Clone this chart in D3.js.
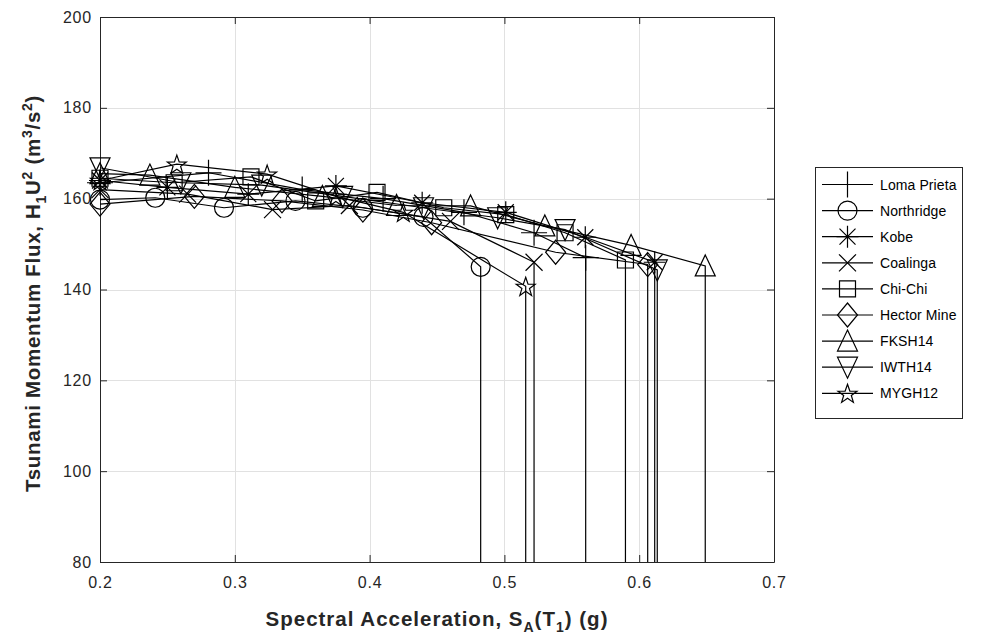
<!DOCTYPE html>
<html>
<head>
<meta charset="utf-8">
<script src="https://cdn.jsdelivr.net/npm/d3@7"></script>
<style>
  html, body { margin: 0; padding: 0; background: #fff; }
  svg { display: block; font-family: "Liberation Sans", Arial, sans-serif; }
</style>
</head>
<body>
<svg id="chart" width="991" height="641"></svg>
<script>
// Incremental dynamic analysis: tsunami momentum flux capacity vs. spectral acceleration
const recordNames = ["Loma Prieta", "Northridge", "Kobe", "Coalinga", "Chi-Chi",
                     "Hector Mine", "FKSH14", "IWTH14", "MYGH12"];
const markerKinds = ["plus", "circle", "asterisk", "cross", "square",
                     "diamond", "triangleUp", "triangleDown", "pentagram"];

const saLomaPrieta = [0.2, 0.2805, 0.35, 0.41, 0.47, 0.522, 0.5603];
const fluxLomaPrieta = [163.5, 165.7, 162.0, 160.0, 157.0, 152.5, 147.0];

const saNorthridge = [0.2, 0.241, 0.292, 0.345, 0.395, 0.44, 0.4824];
const fluxNorthridge = [159.8, 160.2, 158.0, 159.5, 158.0, 156.0, 145.0];

const saKobe = [0.2, 0.25, 0.31, 0.375, 0.439, 0.501, 0.56, 0.6115];
const fluxKobe = [164.0, 162.5, 161.0, 162.8, 159.1, 157.0, 151.5, 146.0];

const saCoalinga = [0.2, 0.265, 0.328, 0.385, 0.46, 0.522];
const fluxCoalinga = [162.0, 161.0, 157.6, 158.5, 155.0, 146.0];

const saChiChi = [0.2, 0.255, 0.312, 0.36, 0.4055, 0.455, 0.501, 0.545, 0.5898];
const fluxChiChi = [164.5, 163.5, 164.8, 159.5, 161.4, 158.0, 156.5, 152.5, 146.5];

const saHectorMine = [0.2, 0.27, 0.335, 0.395, 0.446, 0.538, 0.6063];
const fluxHectorMine = [158.8, 160.5, 159.5, 157.5, 154.7, 148.2, 145.5];

const saFKSH14 = [0.2, 0.237, 0.3, 0.365, 0.42, 0.4749, 0.53, 0.594, 0.649];
const fluxFKSH14 = [165.5, 165.2, 162.5, 160.5, 158.5, 158.4, 154.0, 149.7, 145.2];

const saIWTH14 = [0.2, 0.26, 0.32, 0.38, 0.44, 0.495, 0.545, 0.6134];
const fluxIWTH14 = [166.8, 163.5, 163.0, 160.5, 158.0, 155.8, 153.2, 144.3];

const saMYGH12 = [0.2, 0.257, 0.324, 0.375, 0.425, 0.5158];
const fluxMYGH12 = [164.0, 167.6, 165.4, 160.5, 157.0, 140.7];

const xTickValues = [0.2, 0.3, 0.4, 0.5, 0.6, 0.7];
const yTickValues = [80, 100, 120, 140, 160, 180, 200];

const saSets = [saLomaPrieta, saNorthridge, saKobe, saCoalinga, saChiChi,
                saHectorMine, saFKSH14, saIWTH14, saMYGH12];
const fluxSets = [fluxLomaPrieta, fluxNorthridge, fluxKobe, fluxCoalinga, fluxChiChi,
                  fluxHectorMine, fluxFKSH14, fluxIWTH14, fluxMYGH12];

const series = recordNames.map((name, i) => ({
  name,
  marker: markerKinds[i],
  points: saSets[i].map((sa, j) => ({ sa, flux: fluxSets[i][j] }))
}));

// ---- layout ----
const plot = { left: 100, right: 774, top: 17, bottom: 562 };
const axisColor = "#262626";

const x = d3.scaleLinear().domain([0.2, 0.7]).range([plot.left, plot.right]);
const y = d3.scaleLinear().domain([80, 200]).range([plot.bottom, plot.top]);

const svg = d3.select("#chart");

// marker shapes, centred on the origin
function markerPath(kind) {
  const p = d3.path();
  switch (kind) {
    case "plus":
      p.moveTo(0, -13); p.lineTo(0, 13); p.moveTo(-13, 0); p.lineTo(13, 0); break;
    case "circle":
      p.moveTo(9.5, 0); p.arc(0, 0, 9.5, 0, 2 * Math.PI); break;
    case "asterisk":
      p.moveTo(0, -11); p.lineTo(0, 11); p.moveTo(-11, 0); p.lineTo(11, 0);
      p.moveTo(-8, -8); p.lineTo(8, 8); p.moveTo(-8, 8); p.lineTo(8, -8); break;
    case "cross":
      p.moveTo(-8.5, -8.5); p.lineTo(8.5, 8.5); p.moveTo(-8.5, 8.5); p.lineTo(8.5, -8.5); break;
    case "square":
      p.rect(-8, -8, 16, 16); break;
    case "diamond":
      p.moveTo(0, -12); p.lineTo(10, 0); p.lineTo(0, 12); p.lineTo(-10, 0); p.closePath(); break;
    case "triangleUp":
      p.moveTo(0, -11); p.lineTo(10, 10); p.lineTo(-10, 10); p.closePath(); break;
    case "triangleDown":
      p.moveTo(0, 11); p.lineTo(10, -10); p.lineTo(-10, -10); p.closePath(); break;
    case "pentagram": {
      const R = 10, r = 4;
      for (let k = 0; k < 10; k++) {
        const rad = k % 2 === 0 ? R : r;
        const a = -Math.PI / 2 + k * Math.PI / 5;
        const px = rad * Math.cos(a), py = rad * Math.sin(a) + 1;
        if (k === 0) p.moveTo(px, py); else p.lineTo(px, py);
      }
      p.closePath(); break;
    }
  }
  return p.toString();
}

// ---- grid ----
const grid = svg.append("g").attr("stroke", "#e1e1e1").attr("stroke-width", 1);
grid.selectAll(".gx").data(xTickValues.slice(1, -1)).join("line")
  .attr("x1", d => Math.round(x(d)) + 0.5).attr("x2", d => Math.round(x(d)) + 0.5)
  .attr("y1", plot.top).attr("y2", plot.bottom);
grid.selectAll(".gy").data(yTickValues.slice(1, -1)).join("line")
  .attr("y1", d => Math.round(y(d)) + 0.5).attr("y2", d => Math.round(y(d)) + 0.5)
  .attr("x1", plot.left).attr("x2", plot.right);

// ---- axes (box with inward ticks on all four sides) ----
const tickLen = 7;
const fmtX = d3.format(".1f");
const axBottom = d3.axisBottom(x).tickValues(xTickValues).tickFormat(fmtX).tickSizeInner(-tickLen).tickSizeOuter(0).tickPadding(15);
const axTop = d3.axisTop(x).tickValues(xTickValues).tickFormat("").tickSizeInner(-tickLen).tickSizeOuter(0);
const axLeft = d3.axisLeft(y).tickValues(yTickValues).tickSizeInner(-tickLen).tickSizeOuter(0).tickPadding(8);
const axRight = d3.axisRight(y).tickValues(yTickValues).tickFormat("").tickSizeInner(-tickLen).tickSizeOuter(0);

function styleAxis(g) {
  g.select(".domain").attr("stroke", axisColor);
  g.selectAll(".tick line").attr("stroke", axisColor);
  g.selectAll(".tick text").attr("fill", axisColor).attr("font-size", 16)
    .attr("letter-spacing", 0.8)
    .attr("font-family", "Liberation Sans, Arial, sans-serif");
}
svg.append("g").attr("transform", `translate(0,${plot.bottom})`).call(axBottom).call(styleAxis);
svg.append("g").attr("transform", `translate(0,${plot.top})`).call(axTop).call(styleAxis);
svg.append("g").attr("transform", `translate(${plot.left},0)`).call(axLeft).call(styleAxis);
svg.append("g").attr("transform", `translate(${plot.right},0)`).call(axRight).call(styleAxis);

// ---- series: curve, collapse drop line, markers ----
const line = d3.line().x(d => x(d.sa)).y(d => y(d.flux));
const seriesG = svg.append("g");
series.forEach(s => {
  const g = seriesG.append("g");
  const last = s.points[s.points.length - 1];
  const path = s.points.concat([{ sa: last.sa, flux: y.domain()[0] }]);
  g.append("path").attr("d", line(path))
    .attr("fill", "none").attr("stroke", "#000").attr("stroke-width", 1.2);
  g.selectAll("path.mk").data(s.points).join("path").attr("class", "mk")
    .attr("transform", d => `translate(${x(d.sa)},${y(d.flux)})`)
    .attr("d", markerPath(s.marker))
    .attr("fill", "none").attr("stroke", "#000").attr("stroke-width", 1.2);
});

// ---- axis titles ----
const titleSize = 20.5, subSize = 14;
const xTitle = svg.append("text")
  .attr("x", (plot.left + plot.right) / 2).attr("y", 626)
  .attr("text-anchor", "middle").attr("font-size", titleSize).attr("font-weight", "bold")
  .attr("letter-spacing", 1.0).attr("fill", axisColor);
xTitle.append("tspan").text("Spectral Acceleration, S");
xTitle.append("tspan").attr("font-size", subSize).attr("dy", 6).text("A");
xTitle.append("tspan").attr("dy", -6).text("(T");
xTitle.append("tspan").attr("font-size", subSize).attr("dy", 6).text("1");
xTitle.append("tspan").attr("dy", -6).text(") (g)");

const yTitle = svg.append("text")
  .attr("transform", `translate(40,${(plot.top + plot.bottom) / 2 + 4}) rotate(-90)`)
  .attr("text-anchor", "middle").attr("font-size", titleSize).attr("font-weight", "bold")
  .attr("letter-spacing", 0.7).attr("fill", axisColor);
yTitle.append("tspan").text("Tsunami Momentum Flux, H");
yTitle.append("tspan").attr("font-size", subSize).attr("dy", 6).text("1");
yTitle.append("tspan").attr("dy", -6).text("U");
yTitle.append("tspan").attr("font-size", subSize).attr("dy", -8).text("2");
yTitle.append("tspan").attr("dy", 8).text(" (m");
yTitle.append("tspan").attr("font-size", subSize).attr("dy", -8).text("3");
yTitle.append("tspan").attr("dy", 8).text("/s");
yTitle.append("tspan").attr("font-size", subSize).attr("dy", -8).text("2");
yTitle.append("tspan").attr("dy", 8).text(")");

// ---- legend ----
const legend = { left: 815, top: 167, width: 147, height: 251, rowGap: 26.1, firstRow: 184.5 };
const lg = svg.append("g");
lg.append("rect").attr("x", legend.left + 0.5).attr("y", legend.top + 0.5)
  .attr("width", legend.width).attr("height", legend.height)
  .attr("fill", "#fff").attr("stroke", axisColor).attr("stroke-width", 1);
series.forEach((s, i) => {
  const cy = legend.firstRow + i * legend.rowGap;
  lg.append("line").attr("x1", 822).attr("x2", 873).attr("y1", cy).attr("y2", cy)
    .attr("stroke", "#000").attr("stroke-width", 1.2);
  lg.append("path").attr("transform", `translate(847.5,${cy})`).attr("d", markerPath(s.marker))
    .attr("fill", "none").attr("stroke", "#000").attr("stroke-width", 1.2);
  lg.append("text").attr("x", 880).attr("y", cy + 5).attr("font-size", 14)
    .attr("letter-spacing", 0.1).attr("fill", "#000").text(s.name);
});
</script>
</body>
</html>
